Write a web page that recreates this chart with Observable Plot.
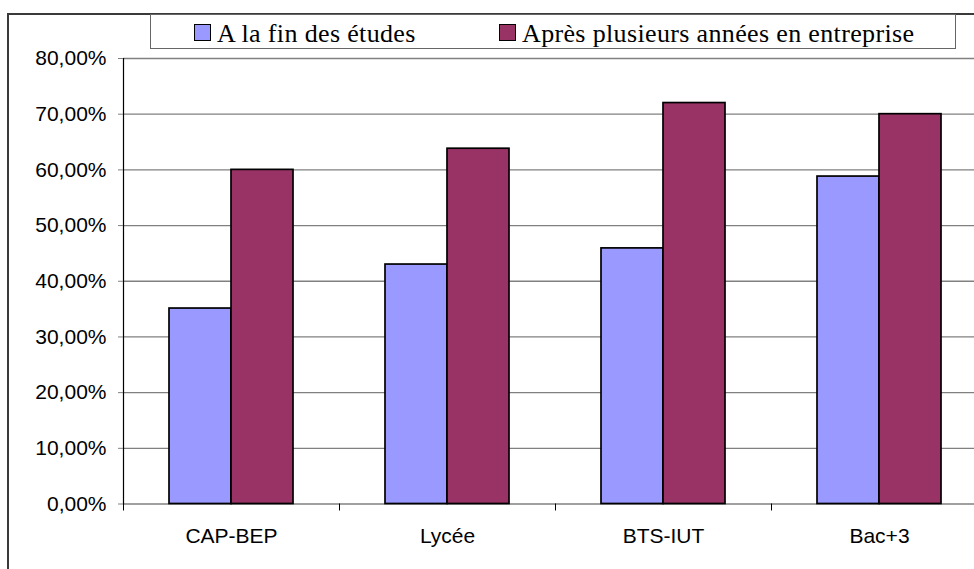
<!DOCTYPE html>
<html>
<head>
<meta charset="utf-8">
<script src="https://cdn.jsdelivr.net/npm/d3@7"></script>
<script src="https://cdn.jsdelivr.net/npm/@observablehq/plot@0.6"></script>
<style>
  html, body { margin: 0; padding: 0; background: #fff; overflow: hidden; width: 974px; height: 569px; }
  #wrap { position: relative; width: 974px; height: 569px; overflow: hidden; }
  #chart { position: absolute; left: 0; top: 0; }
  #chart svg { max-width: none !important; }
  #frame { position: absolute; left: 7px; top: 13px; width: 1100px; height: 700px;
           border-left: 2px solid #3a3a3a; border-top: 2px solid #3a3a3a; box-sizing: border-box; }
  #legend { position: absolute; left: 150px; top: 14px; width: 806px; height: 35px; box-sizing: border-box;
            border: 1px solid #666; background: #fff; font-family: "Liberation Serif", "Times New Roman", serif;
            font-size: 26px; letter-spacing: 0.35px; color: #000; }
  .item { position: absolute; top: 0; height: 33px; line-height: 33px; white-space: nowrap; }
  .sw { display: inline-block; width: 17px; height: 17px; box-sizing: border-box; border: 1.5px solid #000;
        vertical-align: middle; margin-right: 6px; position: relative; top: -2px; }
  .lbl { position: relative; top: 2px; }
</style>
</head>
<body>
<div id="wrap">
  <div id="chart"></div>
  <div id="frame"></div>
  <div id="legend"></div>
</div>
<script>
const categories = ["CAP-BEP", "Lycée", "BTS-IUT", "Bac+3"];
const seriesNames = ["A la fin des études", "Après plusieurs années en entreprise"];
const finEtudes = [35.1, 43.0, 45.9, 58.8];
const apresEntreprise = [60.0, 63.8, 72.0, 70.0];
const yTicks = [0, 10, 20, 30, 40, 50, 60, 70, 80];
const seriesColors = ["#9999FF", "#993366"];

const rows = [];
categories.forEach((c, i) => {
  rows.push({category: c, series: seriesNames[0], value: finEtudes[i]});
  rows.push({category: c, series: seriesNames[1], value: apresEntreprise[i]});
});

const marginLeft = 123, marginRight = 0, marginTop = 58, marginBottom = 65.5;
const plotW = 864;
const step = plotW / categories.length;
const outerPad = 46;
const barW = (step - 2 * outerPad) / 2;

const fmt = d => d.toFixed(2).replace(".", ",") + "%";

const chart = Plot.plot({
  width: marginLeft + plotW + marginRight,
  height: 569,
  marginLeft, marginRight, marginTop, marginBottom,
  style: {fontFamily: "'Liberation Sans', Arial, sans-serif", fontSize: "21px", background: "transparent", color: "#000", maxWidth: "none"},
  x: {domain: categories, padding: 0, label: null},
  y: {domain: [0, 80], label: null},
  marks: [
    Plot.gridY(yTicks, {stroke: "#808080", strokeOpacity: 1, strokeWidth: 1.3}),
    Plot.barY(rows.filter(d => d.series === seriesNames[0]), {
      x: "category", y: "value", fill: seriesColors[0], stroke: "#000", strokeWidth: 1.7,
      insetLeft: outerPad, insetRight: outerPad + barW
    }),
    Plot.barY(rows.filter(d => d.series === seriesNames[1]), {
      x: "category", y: "value", fill: seriesColors[1], stroke: "#000", strokeWidth: 1.7,
      insetLeft: outerPad + barW, insetRight: outerPad
    }),
    Plot.frame({anchor: "left", stroke: "#000", strokeWidth: 1.2}),
    Plot.axisY(yTicks, {tickSize: 5, tickPadding: 12, stroke: "#808080", fill: "#000", tickFormat: fmt, label: null}),
    Plot.axisX({tickSize: 0, tickPadding: 24, fill: "#000", label: null}),
    Plot.axisX({tickSize: 7, tickFormat: () => "", stroke: "#000", dx: -step / 2, label: null})
  ]
});
document.getElementById("chart").appendChild(chart);

const legend = document.getElementById("legend");
const itemLefts = [43, 348];
seriesNames.forEach((name, i) => {
  const it = document.createElement("div");
  it.className = "item";
  it.style.left = itemLefts[i] + "px";
  const sw = document.createElement("span");
  sw.className = "sw";
  sw.style.background = seriesColors[i];
  const t = document.createElement("span");
  t.className = "lbl";
  t.textContent = name;
  it.appendChild(sw);
  it.appendChild(t);
  legend.appendChild(it);
});
</script>
</body>
</html>
